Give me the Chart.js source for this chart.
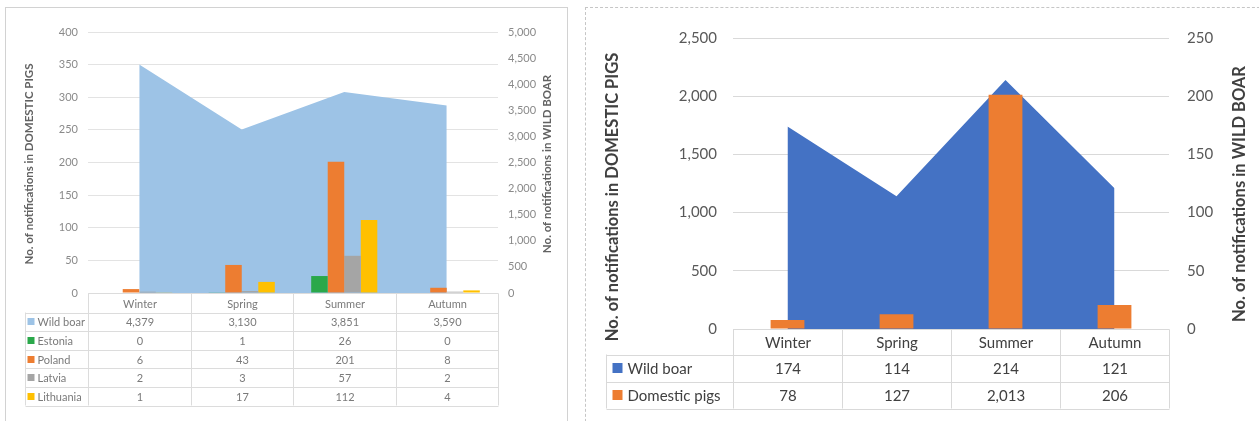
<!DOCTYPE html>
<html>
<head>
<meta charset="utf-8">
<title>African swine fever notifications by season</title>
<script src="https://cdn.jsdelivr.net/npm/chart.js@4.4.1/dist/chart.umd.min.js"></script>
<style>
  html, body { margin: 0; padding: 0; background: #fff; width: 1259px; height: 421px; overflow: hidden; }
  .frame { position: absolute; box-sizing: border-box; }
  #frameA { left: 5px; top: 7px; width: 563px; height: 440px; border: 1px solid #d2d2d2; }
  #frameB { left: 585px; top: 7px; width: 700px; height: 440px; border: 1px dashed #c6c6c6; }
  canvas { position: absolute; }
  #chartA { left: 6px; top: 8px; filter: blur(0.35px); }
  #chartB { left: 586px; top: 8px; }
</style>
</head>
<body>
<div class="frame" id="frameA"></div>
<div class="frame" id="frameB"></div>
<canvas id="chartA" width="560" height="413"></canvas>
<canvas id="chartB" width="673" height="413"></canvas>
<script>
// Seasons shared by both charts
const seasons = ['Winter', 'Spring', 'Summer', 'Autumn'];

// Left chart: notifications per country (domestic pigs) and wild boar total
const wildBoarA = [4379, 3130, 3851, 3590];
const estonia   = [0, 1, 26, 0];
const poland    = [6, 43, 201, 8];
const latvia    = [2, 3, 57, 2];
const lithuania = [1, 17, 112, 4];

// Right chart: wild boar and domestic pig notifications
const wildBoarB     = [174, 114, 214, 121];
const domesticPigsB = [78, 127, 2013, 206];

// Axis titles
const pigTitle  = 'No. of notifications in DOMESTIC PIGS';
const boarTitle = 'No. of notifications in WILD BOAR';

const FONT = 'Lato, "Open Sans", sans-serif';
const fmt = v => v.toLocaleString('en-US');

// Data table drawn under the plot area, one column per season
const seasonTable = {
  id: 'seasonTable',
  afterDraw(chart, args, o) {
    const { ctx, chartArea } = chart;
    const labels = chart.data.labels;
    const n = labels.length;
    const step = (chartArea.right - chartArea.left) / n;
    const cols = [];
    for (let i = 0; i <= n; i++) cols.push(Math.round(chartArea.left + i * step) + 0.5);
    const top = Math.round(chartArea.bottom) + 0.5;
    const rows = chart.data.datasets;
    const bodyTop = top + o.headerHeight;
    const bottom = bodyTop + rows.length * o.rowHeight;
    const legendLeft = o.legendLeft + 0.5;

    ctx.save();
    ctx.strokeStyle = o.lineColor;
    ctx.lineWidth = 1;
    ctx.beginPath();
    ctx.moveTo(cols[0], top); ctx.lineTo(cols[n], top);
    for (let r = 0; r <= rows.length; r++) {
      const y = Math.round(bodyTop + r * o.rowHeight) + 0.5;
      ctx.moveTo(legendLeft, y); ctx.lineTo(cols[n], y);
    }
    cols.forEach(x => { ctx.moveTo(x, top); ctx.lineTo(x, bottom); });
    ctx.moveTo(legendLeft, bodyTop); ctx.lineTo(legendLeft, bottom);
    ctx.stroke();

    ctx.font = o.font;
    ctx.fillStyle = o.textColor;
    ctx.textBaseline = 'middle';
    ctx.textAlign = 'center';
    labels.forEach((lab, i) => ctx.fillText(lab, (cols[i] + cols[i + 1]) / 2, top + o.headerHeight / 2 + 1));

    rows.forEach((ds, r) => {
      const yc = bodyTop + r * o.rowHeight + o.rowHeight / 2 + 1;
      ctx.fillStyle = ds.backgroundColor;
      ctx.fillRect(legendLeft + o.markerOffset, Math.round(yc - o.markerSize / 2 - 1), o.markerSize, o.markerSize);
      ctx.fillStyle = o.textColor;
      ctx.textAlign = 'left';
      ctx.fillText(ds.label, legendLeft + o.textOffset, yc);
      ctx.textAlign = 'center';
      ds.data.forEach((v, i) => ctx.fillText(fmt(v), (cols[i] + cols[i + 1]) / 2, yc));
    });
    ctx.restore();
  }
};

// Vertical axis titles, both reading bottom to top
const axisTitles = {
  id: 'axisTitles',
  afterDraw(chart, args, o) {
    const { ctx } = chart;
    ctx.save();
    ctx.font = o.font;
    ctx.fillStyle = o.color;
    ctx.textAlign = 'center';
    ctx.textBaseline = 'middle';
    o.items.forEach(t => {
      ctx.save();
      ctx.translate(t.x, t.y);
      ctx.rotate(-Math.PI / 2);
      ctx.fillText(t.text, 0, 0);
      ctx.restore();
    });
    ctx.restore();
  }
};

function valueAxis(position, max, step, width, tickFont, tickColor, tickPad, gridColor) {
  return {
    position, min: 0, max,
    ticks: { stepSize: step, padding: tickPad, font: tickFont, color: tickColor },
    grid: gridColor ? { color: gridColor, drawTicks: false, lineWidth: 1 } : { display: false, drawTicks: false },
    border: { display: false },
    afterFit(s) { s.width = width; }
  };
}

// ---- Left chart ----
new Chart(document.getElementById('chartA'), {
  type: 'bar',
  data: {
    labels: seasons,
    datasets: [
      { type: 'line', label: 'Wild boar', data: wildBoarA, yAxisID: 'boar', order: 2,
        backgroundColor: '#9dc3e6', borderColor: 'rgba(0,0,0,0)', borderWidth: 0, pointRadius: 0, fill: 'origin', tension: 0 },
      { label: 'Estonia',   data: estonia,   yAxisID: 'pigs', order: 1, backgroundColor: '#2aa84a' },
      { label: 'Poland',    data: poland,    yAxisID: 'pigs', order: 1, backgroundColor: '#ed7d31' },
      { label: 'Latvia',    data: latvia,    yAxisID: 'pigs', order: 1, backgroundColor: '#a5a5a5' },
      { label: 'Lithuania', data: lithuania, yAxisID: 'pigs', order: 1, backgroundColor: '#ffc000' }
    ]
  },
  options: {
    responsive: false, animation: false, devicePixelRatio: 1,
    datasets: { bar: { barPercentage: 1, categoryPercentage: 0.645 } },
    layout: { padding: { top: 24, bottom: 128, left: 0, right: 0 } },
    plugins: {
      legend: { display: false }, tooltip: { enabled: false },
      seasonTable: { headerHeight: 19, rowHeight: 18.6, legendLeft: 19, markerOffset: 2, markerSize: 7, textOffset: 12,
        font: '11px ' + FONT, textColor: '#7a7a7a', lineColor: '#dcdcdc' },
      axisTitles: { font: 'bold 11.5px ' + FONT, color: '#626262',
        items: [ { text: pigTitle, x: 23, y: 156 }, { text: boarTitle, x: 541, y: 156 } ] }
    },
    scales: {
      x: { display: false },
      pigs: valueAxis('left', 400, 50, 82, { family: FONT, size: 11 }, '#8a8a8a', 10, '#e3e3e3'),
      boar: valueAxis('right', 5000, 500, 68, { family: FONT, size: 11 }, '#8a8a8a', 10, null)
    }
  },
  plugins: [seasonTable, axisTitles]
});

// ---- Right chart ----
new Chart(document.getElementById('chartB'), {
  type: 'bar',
  data: {
    labels: seasons,
    datasets: [
      { type: 'line', label: 'Wild boar', data: wildBoarB, yAxisID: 'boar', order: 2,
        backgroundColor: '#4472c4', borderColor: 'rgba(0,0,0,0)', borderWidth: 0, pointRadius: 0, fill: 'origin', tension: 0 },
      { label: 'Domestic pigs', data: domesticPigsB, yAxisID: 'pigs', order: 1, backgroundColor: '#ed7d31' }
    ]
  },
  options: {
    responsive: false, animation: false, devicePixelRatio: 1,
    datasets: { bar: { barPercentage: 1, categoryPercentage: 0.31 } },
    layout: { padding: { top: 30, bottom: 92, left: 0, right: 0 } },
    plugins: {
      legend: { display: false }, tooltip: { enabled: false },
      seasonTable: { headerHeight: 25, rowHeight: 27, legendLeft: 20, markerOffset: 6, markerSize: 10, textOffset: 21,
        font: '15px ' + FONT, textColor: '#404040', lineColor: '#d9d9d9' },
      axisTitles: { font: 'bold 16.5px ' + FONT, color: '#404040',
        items: [ { text: pigTitle, x: 27, y: 189 }, { text: boarTitle, x: 654, y: 186 } ] }
    },
    scales: {
      x: { display: false },
      pigs: valueAxis('left', 2500, 500, 147, { family: FONT, size: 15 }, '#595959', 16, '#d9d9d9'),
      boar: valueAxis('right', 250, 50, 90, { family: FONT, size: 15 }, '#595959', 18, null)
    }
  },
  plugins: [seasonTable, axisTitles]
});
</script>
</body>
</html>
